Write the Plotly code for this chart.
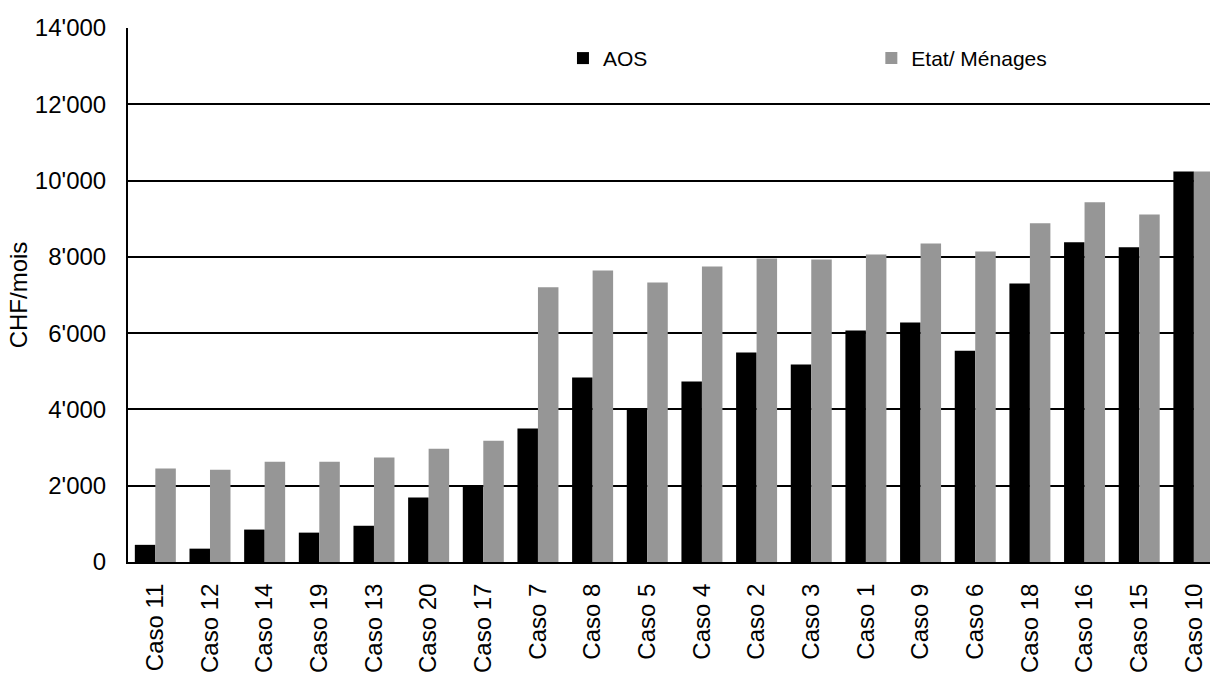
import plotly.graph_objects as go

# Cases, sorted by the combined monthly amount
categories = ["Caso 11", "Caso 12", "Caso 14", "Caso 19", "Caso 13", "Caso 20",
              "Caso 17", "Caso 7", "Caso 8", "Caso 5", "Caso 4", "Caso 2",
              "Caso 3", "Caso 1", "Caso 9", "Caso 6", "Caso 18", "Caso 16",
              "Caso 15", "Caso 10"]

# Monthly amounts in CHF
aos = [450, 350, 850, 770, 950, 1690, 2000, 3500, 4840, 4020, 4730, 5490,
       5180, 6070, 6280, 5540, 7300, 8380, 8250, 10240]
etat_menages = [2450, 2420, 2630, 2630, 2740, 2970, 3180, 7200, 7640, 7330,
                7750, 7960, 7930, 8060, 8350, 8140, 8880, 9430, 9110, 10240]

y_ticks = [0, 2000, 4000, 6000, 8000, 10000, 12000, 14000]

FONT = "Liberation Sans, Arial, sans-serif"
FS = 24
LEG_FS = 21

fig = go.Figure()
fig.add_trace(go.Bar(x=categories, y=aos, name="AOS",
                     marker=dict(color="#000000", line=dict(width=0)),
                     legend="legend", showlegend=True))
fig.add_trace(go.Bar(x=categories, y=etat_menages, name="Etat/ Ménages",
                     marker=dict(color="#969696", line=dict(width=0)),
                     legend="legend2", showlegend=True))

fig.update_layout(
    width=1210, height=675,
    margin=dict(l=128, r=0, t=28, b=113, pad=0),
    paper_bgcolor="white", plot_bgcolor="white",
    font=dict(family=FONT, size=FS, color="black"),
    separators=".'",
    showlegend=True,
    barmode="group", bargap=0.25, bargroupgap=0,
    legend=dict(x=0.402, y=0.943, xanchor="left", yanchor="middle",
                orientation="h", bgcolor="rgba(0,0,0,0)",
                font=dict(family=FONT, size=LEG_FS), itemwidth=30),
    legend2=dict(x=0.687, y=0.943, xanchor="left", yanchor="middle",
                 orientation="h", bgcolor="rgba(0,0,0,0)",
                 font=dict(family=FONT, size=LEG_FS), itemwidth=30),
    xaxis=dict(
        type="category", range=[-0.5, 19.295],
        tickangle=-90, ticks="", ticklabelstandoff=10,
        showgrid=False, showline=True, linecolor="black", linewidth=2,
        tickfont=dict(family=FONT, size=FS),
    ),
    yaxis=dict(
        range=[0, 14000], tickvals=y_ticks, tickformat=",d",
        ticks="", ticklabelstandoff=15,
        showgrid=True, gridcolor="black", gridwidth=1.5,
        showline=True, linecolor="black", linewidth=2,
        zeroline=False,
        tickfont=dict(family=FONT, size=FS),
        title=dict(text="CHF/mois", font=dict(family=FONT, size=FS), standoff=0),
    ),
)

fig.write_html("out.html")
